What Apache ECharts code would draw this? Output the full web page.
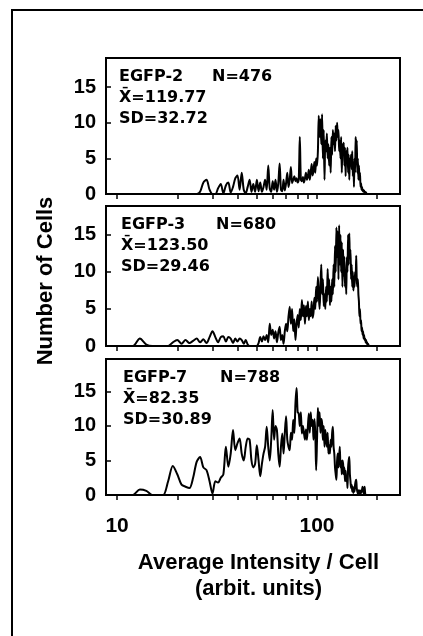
<!DOCTYPE html>
<html><head><meta charset="utf-8">
<script src="https://cdn.jsdelivr.net/npm/echarts@6/dist/echarts.min.js"></script>
<style>html,body{margin:0;padding:0;background:#fff}#c{width:423px;height:636px}</style>
</head><body><div id="c"></div><script>
// intensity bins (arbit. units), 1 unit wide, starting at binStart
const binStart = 10;
const egfp2Counts = [
 0,0,0,0,0,0,0,0,0,0,0,0,0,0,0,0,
 0.3,1.6,2.0,0.6,0,
 0,0.8,1.4,0.1,1.2,1.6,0.2,1.0,2.2,2.6,
 0.6,3.0,0.6,0.1,1.0,2.0,0.3,1.4,0.3,2.0,
 0.4,1.6,0.3,1.0,2.0,0.6,4.0,0.8,0.3,1.8,
 0.6,2.0,0.3,1.5,4.3,0.6,0.4,2.0,0.5,1.5,
 3.0,1.0,2.0,3.8,1.5,2.0,2.5,1.8,2.2,1.6,
 2.0,8.0,2.0,1.8,2.4,1.6,2.2,3.0,2.0,2.5,
 3.4,2.0,3.0,4.2,2.6,3.2,4.5,3.0,5.0,4.0,
 6.0,11.0,8.0,10.5,7.0,11.2,5.0,9.0,2.0,7.5,
 6.0,8.5,5.0,7.0,4.0,6.5,3.0,8.0,5.5,9.0,
 7.0,8.5,6.0,9.6,7.5,10.0,8.0,9.0,6.0,7.5,
 5.0,8.0,3.0,7.0,6.0,7.2,4.0,6.5,2.5,6.0,
 5.0,6.5,3.0,5.5,2.0,5.0,4.0,5.5,3.5,6.0,
 2.5,4.5,1.0,5.0,3.0,8.0,6.0,7.5,3.0,5.0,
 2.0,4.0,2.0,3.0,1.0,1.5,0.6,1.0,0.4,0.6,
 0.3,0.5,0.2,0.3,0,0.2,0,0,0,0
];
const egfp3Counts = [
 0,0,0,
 1.0,0.2,0,0,0,0,
 0.5,0.8,0.3,0.8,0.4,0.7,1.0,0.5,0.9,0.4,1.2,2.0,
 1.2,0.5,1.2,1.3,0.6,1.2,1.0,0.4,1.0,0.6,
 1.0,0.8,0.3,0.8,0.2,0,0,0,0,0,
 0.4,1.2,0.6,1.3,0.8,1.5,0.5,3.0,1.5,2.2,
 1.0,2.0,0.5,1.8,2.6,0.8,1.5,0.3,2.0,3.0,
 2.0,4.0,5.3,3.0,5.0,2.0,3.6,0.8,3.0,4.2,
 2.5,5.0,3.5,6.2,4.0,5.5,3.0,5.4,4.0,6.0,
 3.5,5.0,4.0,6.0,3.8,4.5,6.5,5.0,8.0,6.0,
 9.3,7.0,5.0,8.0,11.0,7.0,9.0,5.4,7.0,5.0,
 8.0,6.0,10.4,7.0,9.0,5.5,8.0,6.0,9.0,7.0,
 11.0,8.0,13.5,10.0,16.0,12.0,15.5,9.0,16.3,11.0,
 15.0,10.0,14.0,8.0,13.0,9.5,12.0,8.0,10.0,7.0,
 12.0,10.0,15.0,11.0,15.2,12.0,13.0,9.0,11.0,8.0,
 10.0,7.5,9.0,8.0,10.0,9.0,12.2,9.0,8.0,9.0,
 7.0,6.0,4.0,5.0,3.0,3.5,2.0,2.5,1.5,2.0,
 1.0,1.5,0.8,1.0,0.5,0.8,0.3,0.5,0.2,0.3,
 0.1,0,0,0,0
];
const egfp7Counts = [
 0,0,0,
 0.8,0.6,0,0,0,
 2.0,4.2,3.0,1.5,1.2,1.0,2.5,4.8,5.5,4.0,3.6,2.0,0.2,
 2.0,1.8,2.5,3.0,7.0,4.1,6.0,9.4,6.5,7.5,
 8.2,6.0,5.0,7.0,8.2,8.0,5.0,4.0,4.5,7.2,
 5.0,2.7,4.5,6.0,7.0,9.9,7.0,5.0,8.0,12.3,
 8.0,10.0,9.4,6.0,4.1,7.0,8.9,6.0,9.0,11.4,
 8.0,7.0,6.5,9.0,8.0,10.9,9.0,13.3,15.5,12.0,
 11.8,10.0,12.0,8.9,10.0,9.0,8.0,9.5,8.0,10.0,
 11.8,9.0,12.0,10.0,10.9,8.0,11.0,9.0,3.6,8.0,
 12.6,10.0,12.0,9.0,11.0,10.4,8.0,10.0,7.0,9.4,
 8.0,7.0,9.0,6.0,7.2,6.0,8.0,7.0,9.0,9.9,
 7.0,6.0,4.0,3.0,2.2,5.0,6.0,4.0,5.5,7.0,
 4.0,5.0,3.0,5.0,4.5,3.0,4.0,2.0,3.5,2.0,
 2.7,1.0,4.0,5.0,5.5,3.0,2.0,1.0,1.5,0.5,
 1.2,0.3,1.0,0.5,1.5,2.0,2.2,1.0,0.5,0.2,
 0.7,0.3,0.5,0.7,0.2,0.2,0.5,0.8,1.2,0.8,
 0.3,0.2,1.2,0.3,0,0,0,0,0,0
];
const panelNames = ['EGFP-2', 'EGFP-3', 'EGFP-7'];
const panelN = [476, 680, 788];
const panelMean = ['119.77', '123.50', '82.35'];
const panelSD = ['32.72', '29.46', '30.89'];
const yTickValues = [0, 5, 10, 15];
const xTickValues = [10, 20, 30, 40, 50, 60, 70, 80, 90, 100, 200];
const xLabelValues = [10, 100];
const xAxisTitle = 'Average Intensity / Cell\n(arbit. units)';
const yAxisTitle = 'Number of Cells';

// layout
const xMin = 8.8, xMax = 260;
const yMax = [19.1, 18.9, 19.7];
const gridBoxes = [
  {left: 106, right: 23, top: 58, height: 136},
  {left: 106, right: 23, top: 206, height: 140},
  {left: 106, right: 23, top: 359, height: 136}
];
const allCounts = [egfp2Counts, egfp3Counts, egfp7Counts];
const BOLD = 'bold';
const tickFont = 'Liberation Sans, Arial, sans-serif';
const noteFont = 'DejaVu Sans, sans-serif';

const chart = echarts.init(document.getElementById('c'), null, {renderer: 'canvas'});

const grid = gridBoxes.map(g => Object.assign({}, g, {show: true, borderColor: '#000', borderWidth: 2, backgroundColor: 'transparent'}));

const xAxis = gridBoxes.map((g, i) => ({
  type: 'log', logBase: 10, gridIndex: i, min: xMin, max: xMax,
  axisLine: {show: true, lineStyle: {color: '#000', width: 2}},
  axisTick: {show: true, inside: false, length: 5, customValues: xTickValues, lineStyle: {color: '#000', width: 1.5}},
  axisLabel: i === 2 ? {show: true, customValues: xLabelValues, color: '#000', fontSize: 21, fontWeight: BOLD, fontFamily: tickFont, margin: 21} : {show: false},
  splitLine: {show: false}, minorTick: {show: false},
  name: i === 2 ? xAxisTitle : '',
  nameLocation: 'middle', nameGap: 55,
  nameTextStyle: {color: '#000', fontSize: 22, fontWeight: BOLD, fontFamily: tickFont, lineHeight: 26, padding: [0, 0, 0, 11]}
}));

const yAxis = gridBoxes.map((g, i) => ({
  type: 'value', gridIndex: i, min: 0, max: yMax[i],
  axisLine: {show: true, lineStyle: {color: '#000', width: 2}},
  axisTick: {show: true, inside: true, length: 5, customValues: yTickValues, lineStyle: {color: '#000', width: 1.5}},
  axisLabel: {show: true, customValues: yTickValues, color: '#000', fontSize: 20, fontWeight: BOLD, fontFamily: tickFont, margin: 10},
  splitLine: {show: false},
  name: i === 1 ? yAxisTitle : '',
  nameLocation: 'middle', nameGap: 49, nameRotate: 90,
  nameTextStyle: {color: '#000', fontSize: 22, fontWeight: BOLD, fontFamily: tickFont, padding: [0, 10, 0, 0]}
}));

const series = allCounts.map((counts, i) => ({
  type: 'line', xAxisIndex: i, yAxisIndex: i,
  data: counts.map((c, k) => [binStart + k, c]),
  showSymbol: false, smooth: 0.3, animation: false,
  lineStyle: {color: '#000', width: 2}
}));

const graphic = [
  {type: 'polyline', shape: {points: [[12, 636], [12, 10], [423, 10]]}, style: {stroke: '#000', lineWidth: 2, fill: null}}
];
gridBoxes.forEach((g, i) => {
  const x0 = 119 + i * 2;
  const common = {fill: '#000', fontSize: 16, fontWeight: BOLD, fontFamily: noteFont, verticalAlign: 'middle'};
  graphic.push({type: 'text', x: x0, y: g.top + 18.5, style: Object.assign({text: panelNames[i]}, common)});
  graphic.push({type: 'text', x: 212 + i * 4, y: g.top + 18.5, style: Object.assign({text: 'N=' + panelN[i]}, common)});
  graphic.push({type: 'text', x: x0, y: g.top + 39.5, style: Object.assign({text: 'X\u0304=' + panelMean[i]}, common)});
  graphic.push({type: 'text', x: x0, y: g.top + 61, style: Object.assign({text: 'SD=' + panelSD[i]}, common)});
});

chart.setOption({
  backgroundColor: '#fff', animation: false,
  grid, xAxis, yAxis, series, graphic
});
</script></body></html>
